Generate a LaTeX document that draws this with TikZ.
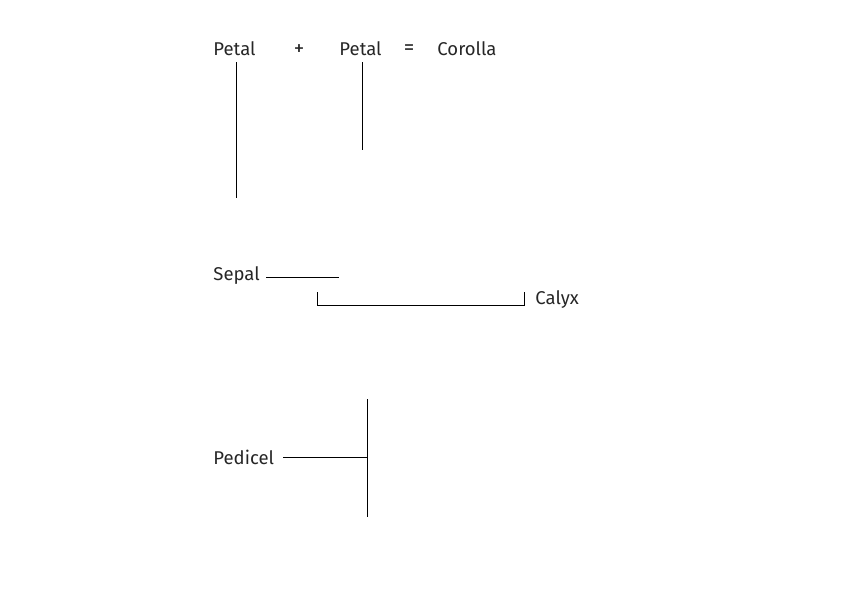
\documentclass[tikz,border=0pt]{standalone}
\usepackage{fontspec}
\setmainfont{Fira Sans}
\begin{document}
\begin{tikzpicture}[x=1pt,y=-1pt,font=\fontsize{18.5}{22}\selectfont,line width=0.9pt,
  lbl/.style={anchor=west,inner sep=0pt,text=black!85},
  sign/.style={anchor=center,inner sep=0pt,text=black!85,font=\fontsize{21}{24}\selectfont}]
      \useasboundingbox (0,0) rectangle (842,595);
      \node[lbl] (petalA) at (213,49) {Petal};
      \node[sign] (plus) at (299,50) {+};
      \node[lbl] (petalB) at (339,49) {Petal};
      \node[sign] (equals) at (409,50) {=};
      \node[lbl] (corolla) at (437,49) {Corolla};
      \coordinate (petalAend) at (236,198);
      \coordinate (petalBend) at (362,150);
      \draw (petalAend |- 0,62) -- (petalAend);
      \draw (petalBend |- 0,62) -- (petalBend);
      \node[lbl] (sepal) at (213,276) {Sepal};
      \coordinate (sepalend) at (339,277);
      \draw ([xshift=6pt]sepal.east |- sepalend) -- (sepalend);
      \node[lbl] (calyx) at (535,300) {Calyx};
      \draw (317,292) -- (317,305) -- ([xshift=-11pt]calyx.west |- 0,305) -- ([xshift=-11pt]calyx.west |- 0,292);
      \node[lbl] (pedicel) at (213,457) {Pedicel};
      \coordinate (stemtop) at (367,399);
      \coordinate (stembot) at (367,517);
      \draw ([xshift=9pt]pedicel.east |- 0,457) -- (stemtop |- 0,457);
      \draw (stemtop) -- (stembot);
\end{tikzpicture}
\end{document}
